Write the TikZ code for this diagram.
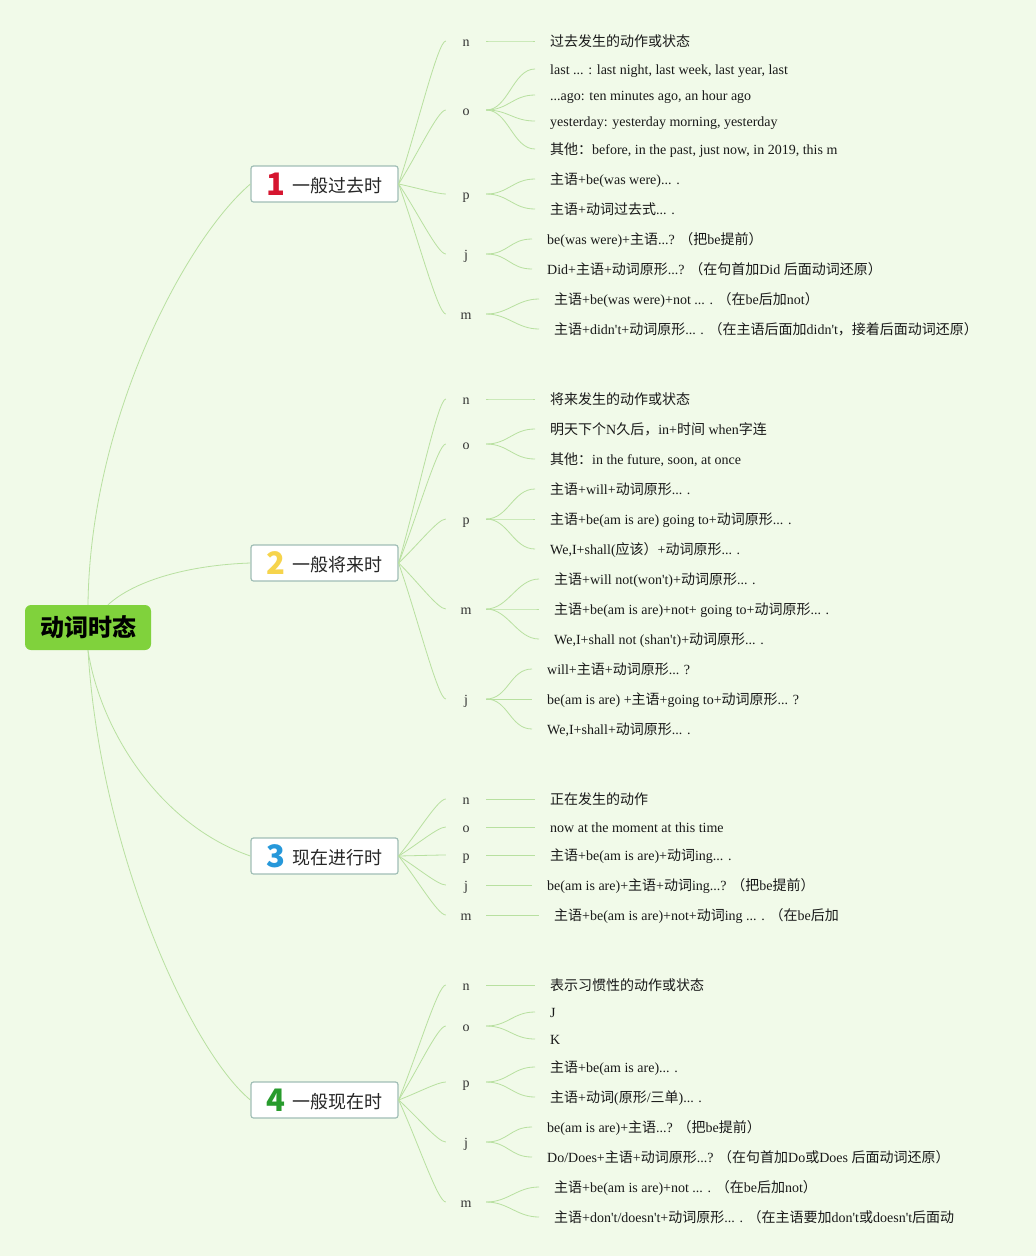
\documentclass[tikz,border=0pt]{standalone}
\usepackage{fontspec}
\setmainfont{Liberation Serif}[Ligatures=TeXOff]
\newfontfamily\cjkfont{Noto Sans CJK SC}
\usetikzlibrary{calc}

% Chinese characters switch to the CJK font by themselves
\XeTeXinterchartokenstate=1
\newXeTeXintercharclass\zhclass
\newcount\zhcount
\def\zhrange#1#2{\zhcount=#1 \loop\XeTeXcharclass\zhcount=\zhclass \advance\zhcount by 1 \ifnum\zhcount<#2 \repeat}
\zhrange{"3000}{"3040}
\zhrange{"4E00}{"A000}
\zhrange{"FF00}{"FFF0}
\XeTeXinterchartoks 0 \zhclass = {\cjkfont}
\XeTeXinterchartoks 4095 \zhclass = {\cjkfont}
\XeTeXinterchartoks \zhclass 0 = {\rmfamily}
\XeTeXinterchartoks \zhclass 4095 = {\rmfamily}

\definecolor{bgcol}{RGB}{241,250,233}
\definecolor{linkcol}{RGB}{184,224,160}
\definecolor{rootcol}{RGB}{128,210,60}
\definecolor{boxline}{RGB}{160,190,182}
\definecolor{numred}{RGB}{214,22,48}
\definecolor{numyellow}{RGB}{246,212,76}
\definecolor{numblue}{RGB}{38,152,218}
\definecolor{numgreen}{RGB}{40,155,45}

\newcommand\tnum[2]{\raisebox{-3pt}{\color{#1}\cjkfont\bfseries\fontsize{31}{31}\selectfont#2}\hspace{8pt}}

\begin{document}
\begin{tikzpicture}[x=1pt, y=-1pt,
	link/.style={draw=linkcol, line width=0.8pt},
	root/.style={fill=rootcol, rounded corners=6pt, minimum width=126pt, minimum height=45pt, inner sep=0pt, font=\bfseries\fontsize{24}{28}\selectfont},
	branch/.style={draw=boxline, line width=1.2pt, fill=white, rounded corners=2.5pt, minimum width=147pt, minimum height=36pt, inner sep=0pt, font=\fontsize{18}{20}\selectfont, text=black!85},
	lbl/.style={minimum width=40pt, inner sep=0pt, text height=12pt, text depth=1pt, font=\fontsize{14}{16}\selectfont, text=black!80},
	leaf/.style={anchor=west, inner xsep=15pt, inner ysep=0pt, text height=12pt, text depth=1pt, font=\fontsize{14}{16}\selectfont, text=black!90}]
	\fill[bgcol] (0,0) rectangle (1036,1256);
	\useasboundingbox (0,0) rectangle (1036,1256);

	\node[root] (tense) at (88,627.5) {动词时态};

	% 1 past
	\node[branch] (past) at (324.5,184) {\tnum{numred}{1}一般过去时};
	\draw[link] (tense.north) .. controls (90,420) and (185,240) .. (past.west);
	\foreach \k/\y in {n/41,o/110,p/194,j/254,m/314}{
		\node[lbl] (past-\k) at (466,\y) {\k};
		\draw[link] (past.east) .. controls ($(past.east)!0.4!(past-\k.west)$) and +(-8,0) .. (past-\k.west);
	}
	\foreach \x/\k/\y/\txt [count=\i] in {535/n/41/{过去发生的动作或状态},
		535/o/69/{last ... : last night, last week, last year, last},
		535/o/95/{...ago: ten minutes ago, an hour ago},
		535/o/121/{yesterday: yesterday morning, yesterday},
		535/o/149/{其他：before, in the past, just now, in 2019, this m},
		535/p/179/{主语+be(was were)... .},
		535/p/209/{主语+动词过去式... .},
		532/j/239/{be(was were)+主语...? （把be提前）},
		532/j/269/{Did+主语+动词原形...? （在句首加Did 后面动词还原）},
		539/m/299/{主语+be(was were)+not ... . （在be后加not）},
		539/m/329/{主语+didn't+动词原形... . （在主语后面加didn't，接着后面动词还原）}}{
		\node[leaf] (past-\k-\i) at (\x,\y) {\txt};
		\draw[link] (past-\k.east) .. controls +(22,0) and +(-22,0) .. (past-\k-\i.west);
	}

	% 2 future
	\node[branch] (future) at (324.5,563) {\tnum{numyellow}{2}一般将来时};
	\draw[link] ([xshift=20pt]tense.north) .. controls (135,580) and (190,565) .. (future.west);
	\foreach \k/\y in {n/399,o/444,p/519,m/609,j/699}{
		\node[lbl] (future-\k) at (466,\y) {\k};
		\draw[link] (future.east) .. controls ($(future.east)!0.4!(future-\k.west)$) and +(-8,0) .. (future-\k.west);
	}
	\foreach \x/\k/\y/\txt [count=\i] in {535/n/399/{将来发生的动作或状态},
		535/o/429/{明天下个N久后，in+时间 when字连},
		535/o/459/{其他：in the future, soon, at once},
		535/p/489/{主语+will+动词原形... .},
		535/p/519/{主语+be(am is are) going to+动词原形... .},
		535/p/549/{We,I+shall(应该）+动词原形... .},
		539/m/579/{主语+will not(won't)+动词原形... .},
		539/m/609/{主语+be(am is are)+not+ going to+动词原形... .},
		539/m/639/{We,I+shall not (shan't)+动词原形... .},
		532/j/669/{will+主语+动词原形... ?},
		532/j/699/{be(am is are) +主语+going to+动词原形... ?},
		532/j/729/{We,I+shall+动词原形... .}}{
		\node[leaf] (future-\k-\i) at (\x,\y) {\txt};
		\draw[link] (future-\k.east) .. controls +(22,0) and +(-22,0) .. (future-\k-\i.west);
	}

	% 3 present progressive
	\node[branch] (prog) at (324.5,856) {\tnum{numblue}{3}现在进行时};
	\draw[link] (tense.south) .. controls (100,730) and (160,825) .. (prog.west);
	\foreach \x/\k/\y/\txt in {535/n/799/{正在发生的动作},
		535/o/827/{now at the moment at this time},
		535/p/855/{主语+be(am is are)+动词ing... .},
		532/j/885/{be(am is are)+主语+动词ing...? （把be提前）},
		539/m/915/{主语+be(am is are)+not+动词ing ... . （在be后加}}{
		\node[lbl] (prog-\k) at (466,\y) {\k};
		\node[leaf] (prog-\k-1) at (\x,\y) {\txt};
		\draw[link] (prog.east) .. controls ($(prog.east)!0.4!(prog-\k.west)$) and +(-8,0) .. (prog-\k.west);
		\draw[link] (prog-\k.east) -- (prog-\k-1.west);
	}

	% 4 present simple
	\node[branch] (pres) at (324.5,1100) {\tnum{numgreen}{4}一般现在时};
	\draw[link] (tense.south) .. controls (100,850) and (190,1050) .. (pres.west);
	\foreach \k/\y in {n/985,o/1026,p/1082,j/1142,m/1202}{
		\node[lbl] (pres-\k) at (466,\y) {\k};
		\draw[link] (pres.east) .. controls ($(pres.east)!0.4!(pres-\k.west)$) and +(-8,0) .. (pres-\k.west);
	}
	\foreach \x/\k/\y/\txt [count=\i] in {535/n/985/{表示习惯性的动作或状态},
		535/o/1012/{J},
		535/o/1039/{K},
		535/p/1067/{主语+be(am is are)... .},
		535/p/1097/{主语+动词(原形/三单)... .},
		532/j/1127/{be(am is are)+主语...? （把be提前）},
		532/j/1157/{Do/Does+主语+动词原形...? （在句首加Do或Does 后面动词还原）},
		539/m/1187/{主语+be(am is are)+not ... . （在be后加not）},
		539/m/1217/{主语+don't/doesn't+动词原形... . （在主语要加don't或doesn't后面动}}{
		\node[leaf] (pres-\k-\i) at (\x,\y) {\txt};
		\draw[link] (pres-\k.east) .. controls +(22,0) and +(-22,0) .. (pres-\k-\i.west);
	}
\end{tikzpicture}
\end{document}
